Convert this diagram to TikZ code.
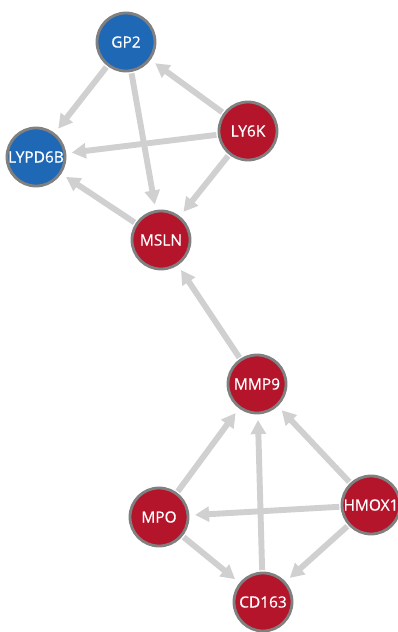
\documentclass[tikz,border=0pt]{standalone}
\usepackage{fontspec}
\newfontfamily\genefont{Open Sans}[FakeBold=0.7]
\usetikzlibrary{arrows.meta}
\definecolor{genered}{RGB}{181,21,43}
\definecolor{geneblue}{RGB}{31,104,181}
\definecolor{generim}{RGB}{128,128,128}
\definecolor{linkgray}{RGB}{208,208,208}

\tikzset{
  gene/.style={circle,draw=generim,line width=2pt,minimum size=1.45cm,inner sep=0pt,
    text=white,font=\genefont\fontsize{11}{12}\selectfont},
  redgene/.style={gene,fill=genered},
  bluegene/.style={gene,fill=geneblue},
  link/.style={linkgray,line width=4.2pt,-{Triangle[length=10pt,width=10.5pt]},
    shorten >=4pt,shorten <=1pt}
}

\begin{document}
\begin{tikzpicture}[x=0.025cm,y=-0.025cm]
  \useasboundingbox (0,0) rectangle (398,632);
  % ---- upper cluster ----
  \node[bluegene] (gp2)    at (126,42)  {GP2};
  \node[bluegene] (lypd6b) at (36,157)  {LYPD6B};
  \node[redgene]  (ly6k)   at (248,131) {LY6K};
  \node[redgene]  (msln)   at (161,240) {MSLN};
  % ---- lower cluster ----
  \node[redgene]  (mmp9)   at (257,384) {MMP9};
  \node[redgene]  (mpo)    at (159,517) {MPO};
  \node[redgene]  (hmox1)  at (371,505) {HMOX1};
  \node[redgene]  (cd163)  at (263,602) {CD163};
  % ---- links ----
  \draw[link] (gp2) -- (lypd6b);
  \draw[link] (gp2) -- (msln);
  \draw[link] (ly6k) -- (gp2);
  \draw[link] (ly6k) -- (lypd6b);
  \draw[link] (ly6k) -- (msln);
  \draw[link] (msln) -- (lypd6b);
  \draw[link] (mmp9) -- (msln);
  \draw[link] (mpo) -- (mmp9);
  \draw[link] (cd163) -- (mmp9);
  \draw[link] (hmox1) -- (mmp9);
  \draw[link] (hmox1) -- (mpo);
  \draw[link] (hmox1) -- (cd163);
  \draw[link] (mpo) -- (cd163);
\end{tikzpicture}
\end{document}
